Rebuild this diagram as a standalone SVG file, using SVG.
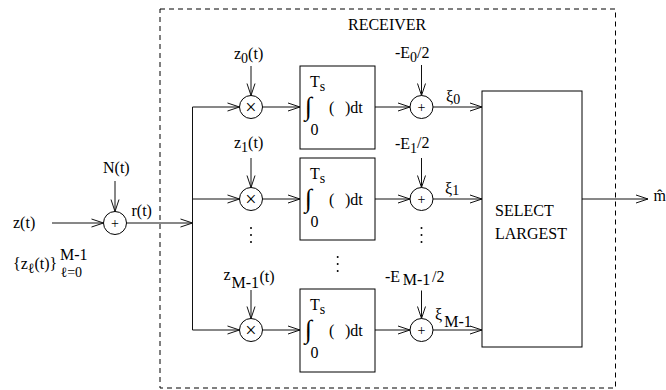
<svg xmlns="http://www.w3.org/2000/svg" width="666" height="390" viewBox="0 0 666 390">
<defs>
<marker id="arr" markerUnits="userSpaceOnUse" markerWidth="14" markerHeight="10" refX="12" refY="4" orient="auto" overflow="visible"><path d="M0,0 L12,4 L0,8" fill="none" stroke="#111" stroke-width="1"/></marker>
<style>
text{font-family:"Liberation Serif","Times New Roman",serif;font-size:16px;fill:#000}
.sub{font-size:14px}
.int{font-size:26px}
.op{font-size:20px;text-anchor:middle}
.pl{font-size:14px;text-anchor:middle}
.c{fill:#fff;stroke:#000;stroke-width:1}
.box{fill:#fff;stroke:#000;stroke-width:1}
.ln{fill:none;stroke:#111;stroke-width:1}
.a{fill:none;stroke:#111;stroke-width:1;marker-end:url(#arr)}
.dash{fill:none;stroke:#000;stroke-width:1;stroke-dasharray:5 4}
.dot{fill:#000}
</style>
</defs>
<rect id="receiver" class="dash" x="160" y="9" width="455.5" height="379"/>
<text x="348" y="30">RECEIVER</text>

<g id="connectors">
<path class="a" d="M52,223H103.5"/>
<path class="a" d="M115,181V211.5"/>
<path class="a" d="M126.5,223H192.5"/>
<path class="ln" d="M192.5,107V330"/>
<path class="a" d="M192.5,107H239.5"/>
<path class="a" d="M262.5,107H300"/>
<path class="a" d="M375,107H410"/>
<path class="a" d="M433,107H482"/>
<path class="a" d="M251,66V95.5"/>
<path class="a" d="M421.5,65V95.5"/>
<path class="a" d="M192.5,199H239.5"/>
<path class="a" d="M262.5,199H300"/>
<path class="a" d="M375,199H410"/>
<path class="a" d="M433,199H482"/>
<path class="a" d="M251,158V187.5"/>
<path class="a" d="M421.5,158V187.5"/>
<path class="a" d="M192.5,330H239.5"/>
<path class="a" d="M262.5,330H300"/>
<path class="a" d="M375,330H410"/>
<path class="a" d="M433,330H482"/>
<path class="a" d="M251,290V318.5"/>
<path class="a" d="M421.5,290.5V318.5"/>
<path class="a" d="M582,199H648"/>
</g>

<g id="input-labels">
<text x="13" y="228">z(t)</text>
<text x="103" y="173">N(t)</text>
<text x="131.5" y="216">r(t)</text>
<text x="13" y="269">{z<tspan class="sub" y="273">ℓ</tspan><tspan y="269">(t)}</tspan></text>
<text x="60" y="260">M-1</text>
<text class="sub" x="60.5" y="277">ℓ=0</text>
</g>

<g id="input-sum">
<circle class="c" cx="115" cy="223" r="11.5"/>
<text class="pl" x="115" y="228">+</text>
</g>

<g id="mult0">
<circle class="c" cx="251" cy="107" r="11.5"/>
<text class="op" x="251" y="113.5">×</text>
<text x="234" y="59">z<tspan class="sub" y="63">0</tspan><tspan y="59">(t)</tspan></text>
</g>
<g id="mult1">
<circle class="c" cx="251" cy="199" r="11.5"/>
<text class="op" x="251" y="205.5">×</text>
<text x="234" y="147.5">z<tspan class="sub" y="152">1</tspan><tspan y="147.5">(t)</tspan></text>
</g>
<g id="multM">
<circle class="c" cx="251" cy="330" r="11.5"/>
<text class="op" x="251" y="336.5">×</text>
<text x="223.5" y="280">z<tspan x="231.5" y="288">M-1</tspan><tspan x="259.5" y="282">(t)</tspan></text>
</g>

<g id="int0">
<rect class="box" x="300" y="66" width="75" height="83"/>
<text x="310" y="87">T<tspan class="sub" y="91">s</tspan></text>
<text class="int" x="305" y="115">∫</text>
<text x="329" y="113">(<tspan x="345">)dt</tspan></text>
<text x="310.5" y="135">0</text>
</g>
<g id="int1">
<rect class="box" x="300" y="158" width="75" height="82"/>
<text x="310" y="179">T<tspan class="sub" y="183">s</tspan></text>
<text class="int" x="305" y="207">∫</text>
<text x="329" y="205">(<tspan x="345">)dt</tspan></text>
<text x="310.5" y="227">0</text>
</g>
<g id="intM">
<rect class="box" x="300" y="289" width="75" height="83"/>
<text x="310" y="310">T<tspan class="sub" y="314">s</tspan></text>
<text class="int" x="305" y="338">∫</text>
<text x="329" y="336">(<tspan x="345">)dt</tspan></text>
<text x="310.5" y="358">0</text>
</g>

<g id="sum0">
<circle class="c" cx="421.5" cy="107" r="11.5"/>
<text class="pl" x="421.5" y="112">+</text>
<text x="395" y="58">-E<tspan class="sub" y="62">0</tspan><tspan y="57.5">/2</tspan></text>
<text x="446" y="102">ξ<tspan class="sub" y="104">0</tspan></text>
</g>
<g id="sum1">
<circle class="c" cx="421.5" cy="199" r="11.5"/>
<text class="pl" x="421.5" y="204">+</text>
<text x="395" y="148.5">-E<tspan class="sub" y="152.5">1</tspan><tspan y="148">/2</tspan></text>
<text x="445" y="194">ξ<tspan class="sub" y="195">1</tspan></text>
</g>
<g id="sumM">
<circle class="c" cx="421.5" cy="330" r="11.5"/>
<text class="pl" x="421.5" y="335">+</text>
<text x="385" y="282">-E<tspan x="402.7" y="285">M-1</tspan><tspan x="432" y="282">/2</tspan></text>
<text x="435" y="320">ξ<tspan x="444.3" y="326.7">M-1</tspan></text>
</g>

<g id="ellipses">
<circle class="dot" cx="251" cy="228" r="1"/><circle class="dot" cx="251" cy="235" r="1"/><circle class="dot" cx="251" cy="242" r="1"/>
<circle class="dot" cx="421.5" cy="228" r="1"/><circle class="dot" cx="421.5" cy="235" r="1"/><circle class="dot" cx="421.5" cy="242" r="1"/>
<circle class="dot" cx="337.7" cy="257" r="1"/><circle class="dot" cx="337.7" cy="264" r="1"/><circle class="dot" cx="337.7" cy="271" r="1"/>
</g>

<g id="select">
<rect class="box" x="482" y="91" width="100" height="256"/>
<text x="495" y="216">SELECT</text>
<text x="495" y="239">LARGEST</text>
</g>

<g id="output">
<text x="653.5" y="201">m̂</text>
</g>
</svg>
